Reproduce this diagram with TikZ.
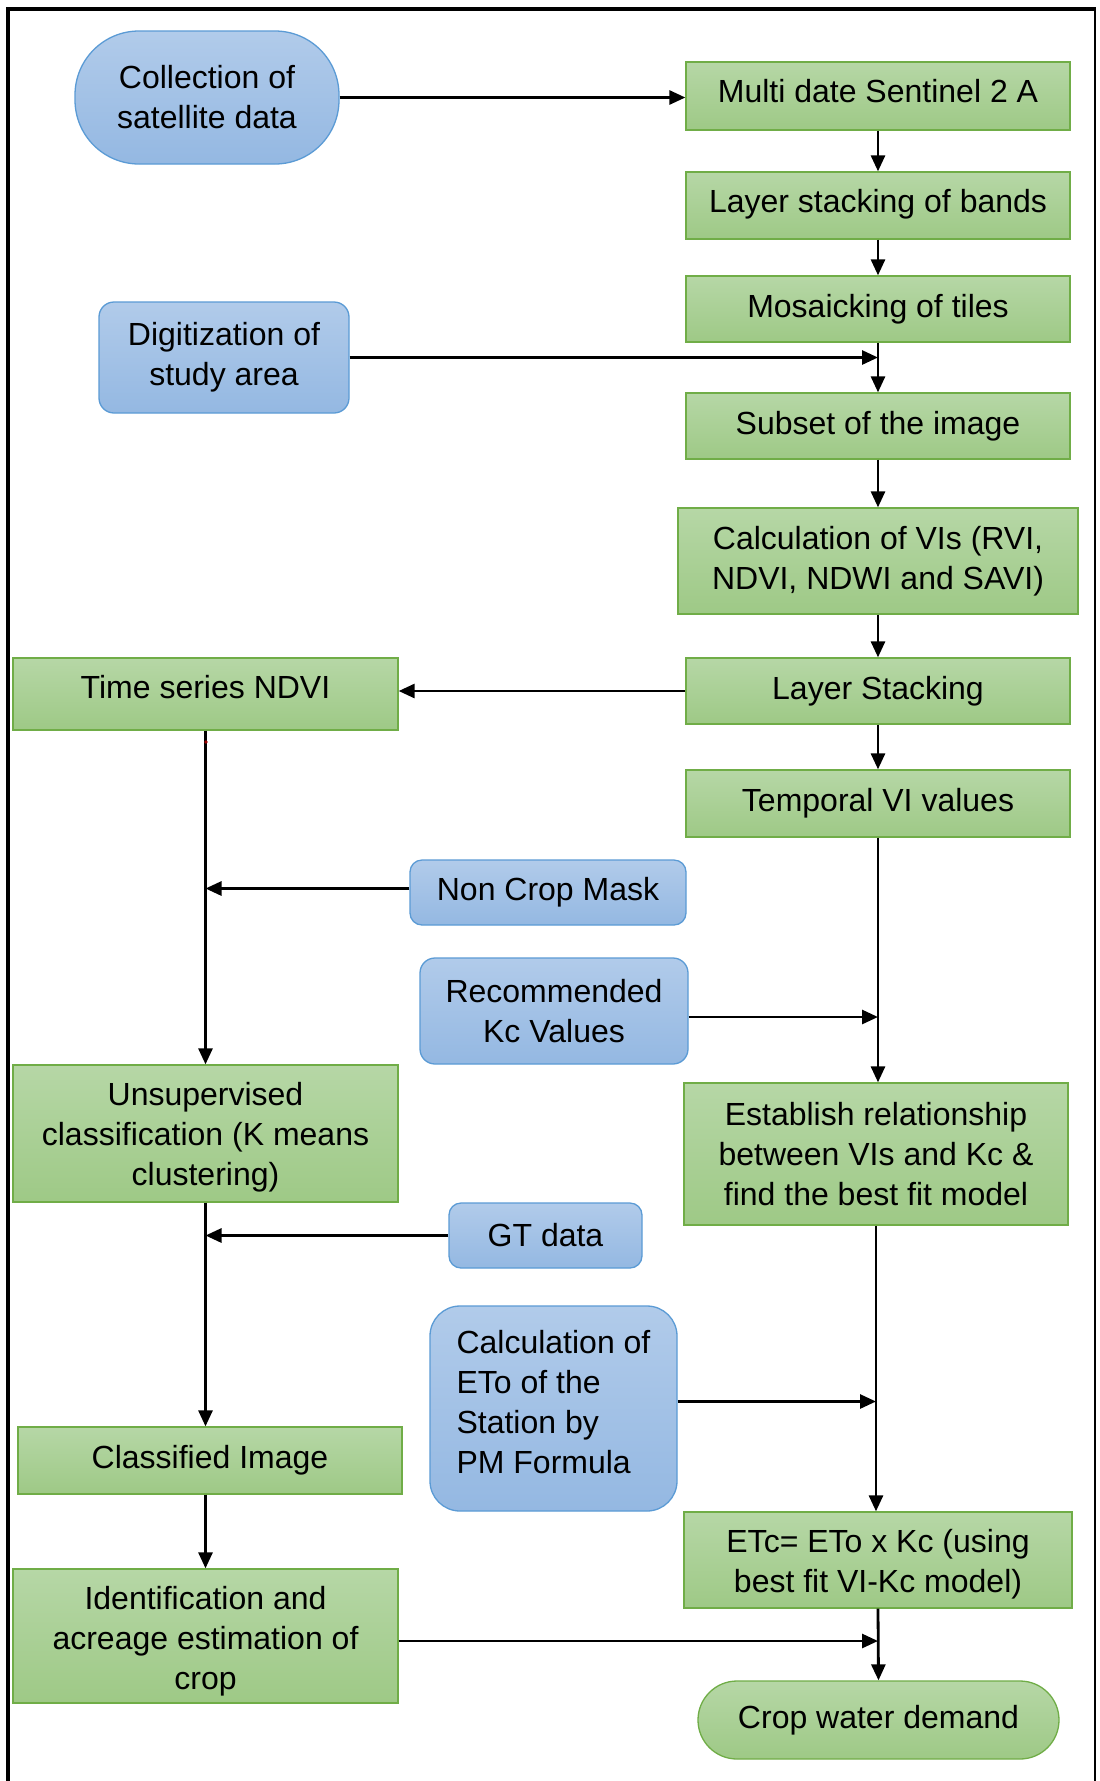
\documentclass[tikz,border=0pt]{standalone}
\usepackage{fontspec}
\setmainfont{Liberation Sans}
\usetikzlibrary{arrows.meta,shapes.misc}
\definecolor{gtop}{RGB}{182,215,166}
\definecolor{gbot}{RGB}{158,201,134}
\definecolor{gline}{RGB}{112,173,71}
\definecolor{btop}{RGB}{177,203,234}
\definecolor{bbot}{RGB}{148,184,226}
\definecolor{bline}{RGB}{91,155,213}
\tikzset{
  base/.style={font=\fontsize{32}{40}\selectfont, align=center, inner sep=0pt, line width=1.3pt},
  gbox/.style={base, draw=gline, top color=gtop, bottom color=gbot},
  bbox/.style={base, draw=bline, top color=btop, bottom color=bbot, rounded corners=15pt},
  arr/.style={-{Triangle[length=16pt,width=14pt]}, line width=2.8pt, draw=black},
}
\newcommand{\bx}[6]{\node[#1, minimum width=#4pt, minimum height=#5pt] (#2) at (#3) {#6};}
\newcommand{\shc}[2]{\raisebox{#1}[\height][\depth]{\begin{tabular}{@{}c@{}}#2\end{tabular}}}
\newcommand{\shl}[2]{\raisebox{#1}[\height][\depth]{\begin{tabular}{@{}l@{}}#2\end{tabular}}}
\begin{document}
\begin{tikzpicture}[x=1pt,y=-1pt]
\useasboundingbox (0,0) rectangle (1100,1781);
\fill[white] (0,0) rectangle (1100,1781);
% frame
\draw[line width=4pt] (8,1781) -- (8,9) -- (1096,9);
\draw[line width=2.5pt] (1095,9) -- (1095,1781);

% nodes
\bx{bbox, rounded corners=64pt}{coll}{207,97.5}{264}{133}{Collection of\\satellite data}
\bx{gbox}{multi}{878,96}{384}{68}{\shc{2pt}{Multi date Sentinel 2 A}}
\bx{gbox}{layerb}{878,205.5}{384}{67}{\shc{1pt}{Layer stacking of bands}}
\bx{gbox}{mosaic}{878,309}{384}{66}{Mosaicking of tiles}
\bx{bbox}{digit}{224,357.5}{250}{111}{Digitization of\\study area}
\bx{gbox}{subset}{878,426}{384}{66}{Subset of the image}
\bx{gbox}{calcvi}{878,561}{400}{106}{Calculation of VIs (RVI,\\NDVI, NDWI and SAVI)}
\bx{gbox}{lstack}{878,691}{384}{66}{Layer Stacking}
\bx{gbox}{tsndvi}{205.5,694}{385}{72}{\shc{4pt}{Time series NDVI}}
\bx{gbox}{temporal}{878,803.5}{384}{67}{Temporal VI values}
\bx{bbox, rounded corners=12pt}{ncm}{548,892.5}{276}{65}{Non Crop Mask}
\bx{bbox}{kc}{554,1011}{268}{106}{Recommended\\Kc Values}
\bx{gbox}{unsup}{205.5,1133.5}{385}{137}{\shc{-4pt}{Unsupervised\\classification (K means\\clustering)}}
\bx{gbox}{estab}{876,1154}{384}{142}{Establish relationship\\between VIs and Kc \&\\find the best fit model}
\bx{bbox, rounded corners=12pt}{gt}{545.5,1235.5}{193}{65}{GT data}
\node[bbox, rounded corners=30pt, minimum width=247pt, minimum height=205pt] (eto) at (553.5,1408.5) {\shl{3pt}{Calculation of\\ETo of the\\Station by\\PM Formula}};
\bx{gbox}{classif}{210,1460.5}{384}{67}{Classified Image}
\bx{gbox}{ident}{205.5,1636}{385}{134}{\shc{-5pt}{Identification and\\acreage estimation of\\crop}}
\bx{gbox}{etc}{878,1560}{388}{96}{\shc{-4pt}{ETc= ETo x Kc (using\\best fit VI-Kc model)}}
\bx{gbox, rounded corners=39pt}{cwd}{878.5,1720}{361}{78}{Crop water demand}

% connectors
\draw[arr] (coll.east) -- (coll.east -| multi.west);
\draw[arr] (multi.south) -- (layerb.north);
\draw[arr] (layerb.south) -- (mosaic.north);
\draw[arr] (mosaic.south) -- (subset.north);
\draw[arr] (digit.east) -- (digit.east -| mosaic.south);
\draw[arr] (subset.south) -- (calcvi.north);
\draw[arr] (calcvi.south) -- (lstack.north);
\draw[arr] (lstack.west) -- (lstack.west -| tsndvi.east);
\draw[arr] (lstack.south) -- (temporal.north);
\draw[arr] (tsndvi.south) -- (unsup.north);
\draw[arr] ([yshift=4pt]ncm.west) -- ([yshift=4pt]ncm.west -| tsndvi.south);
\draw[arr] (temporal.south) -- (temporal.south |- estab.north);
\draw[arr] ([yshift=-6pt]kc.east) -- ([yshift=-6pt]kc.east -| temporal.south);
\draw[arr] (unsup.south) -- (unsup.south |- classif.north);
\draw[arr] (gt.west) -- (gt.west -| unsup.south);
\draw[arr] (estab.south) -- (estab.south |- etc.north);
\draw[arr] ([yshift=7pt]eto.east) -- ([yshift=7pt]eto.east -| estab.south);
\draw[arr] (ident.north |- classif.south) -- (ident.north);
\draw[arr] ([yshift=-5pt]ident.east) -- ([yshift=-5pt]ident.east -| etc.south);
\draw[arr] (etc.south) -- (cwd.north);
\fill[red!60!black] (206,742) circle (1.8pt);
\end{tikzpicture}
\end{document}
